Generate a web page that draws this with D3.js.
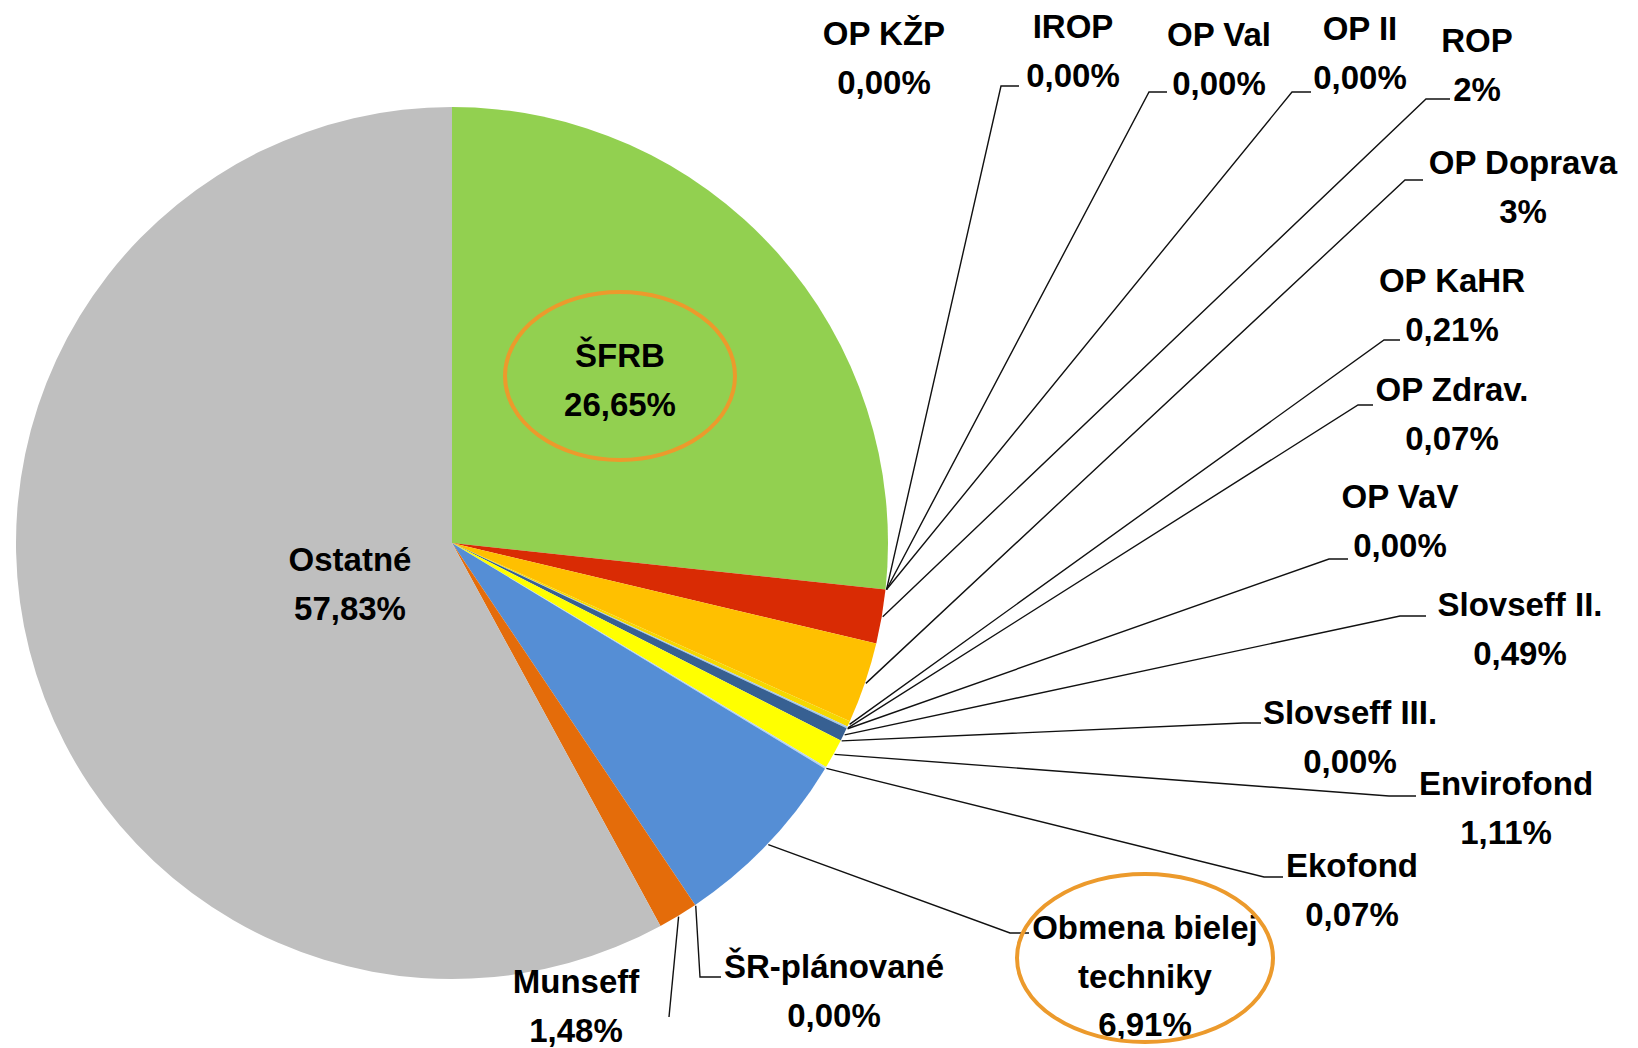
<!DOCTYPE html>
<html><head><meta charset="utf-8">
<script src="https://cdn.jsdelivr.net/npm/d3@7"></script>
<style>html,body{margin:0;padding:0;background:#fff;}svg{display:block;}</style>
</head><body>
<script>
const categories = ["ŠFRB","OP KŽP","IROP","OP Val","OP II","ROP","OP Doprava","OP KaHR","OP Zdrav.","OP VaV","Slovseff II.","Slovseff III.","Envirofond","Ekofond","Obmena bielej\ntechniky","ŠR-plánované","Munseff","Ostatné"];
const values = [26.65,0,0,0,0,2,3,0.21,0.07,0,0.49,0,1.11,0.07,6.91,0,1.48,57.83];
const valueLabels = ["26,65%","0,00%","0,00%","0,00%","0,00%","2%","3%","0,21%","0,07%","0,00%","0,49%","0,00%","1,11%","0,07%","6,91%","0,00%","1,48%","57,83%"];
const colors = ["#92D050","#4F81BD","#C0504D","#9BBB59","#8064A2","#D92B04","#FFC000","#F5D800","#A6C8E8","#4BACC6","#376092","#F79646","#FFFF00","#B7D3EF","#558ED5","#7F7F7F","#E46C0A","#BFBFBF"];

// layout of the data labels (text centre, leader elbow, hook length)
const labelLayout = [
  {tx:620,ty:355,leader:false},
  {tx:884,ty:33,leader:false},
  {tx:1073,ty:26,ax:1001,ay:86,hook:18},
  {tx:1219,ty:34,ax:1149,ay:92,hook:18},
  {tx:1360,ty:28,ax:1292,ay:92,hook:19},
  {tx:1477,ty:40,ax:1426,ay:99,hook:24},
  {tx:1523,ty:162,ax:1405,ay:180,hook:18},
  {tx:1452,ty:280,ax:1384,ay:340,hook:16},
  {tx:1452,ty:389,ax:1358,ay:405,hook:15},
  {tx:1400,ty:496,ax:1329,ay:559,hook:19},
  {tx:1520,ty:604,ax:1400,ay:616,hook:26},
  {tx:1350,ty:712,ax:1243,ay:723,hook:18},
  {tx:1506,ty:783,ax:1389,ay:796,hook:27},
  {tx:1352,ty:865,ax:1264,ay:877,hook:19},
  {tx:1145,ty:927,ax:1010,ay:933,hook:19},
  {tx:834,ty:966,ax:700,ay:977,hook:21},
  {tx:576,ty:981,ax:669,ay:1017,hook:0},
  {tx:350,ty:559,leader:false}
];

const W = 1638, H = 1048;
const cx = 452, cy = 543, R = 436;
const lineH = 48.5;

const svg = d3.select("body").append("svg").attr("width",W).attr("height",H);
const g = svg.append("g").attr("transform",`translate(${cx},${cy})`);

const pie = d3.pie().sort(null).value(d=>d)(values);
const arc = d3.arc().innerRadius(0).outerRadius(R);

g.selectAll("path.slice").data(pie).enter().append("path")
  .attr("class","slice")
  .attr("d",arc)
  .attr("fill",(d,i)=>colors[i]);

// leader lines
const leaders = svg.append("g").attr("fill","none").attr("stroke","#111").attr("stroke-width",1.4);
pie.forEach((d,i)=>{
  const L = labelLayout[i];
  if (L.leader===false) return;
  const a = (d.startAngle+d.endAngle)/2;
  const sx = cx + (R+1)*Math.sin(a), sy = cy - (R+1)*Math.cos(a);
  const path = d3.path();
  path.moveTo(sx,sy);
  path.lineTo(L.ax,L.ay);
  if (L.hook>0) path.lineTo(L.ax+L.hook,L.ay);
  leaders.append("path").attr("d",path.toString());
});

// labels
const labels = svg.append("g")
  .attr("font-family","'Liberation Sans', Arial, sans-serif")
  .attr("font-weight","bold").attr("font-size",33).attr("fill","#000")
  .attr("text-anchor","middle");
categories.forEach((c,i)=>{
  const L = labelLayout[i];
  const lines = c.split("\n").concat([valueLabels[i]]);
  const t = labels.append("text").attr("x",L.tx).attr("y",L.ty).attr("dominant-baseline","central");
  lines.forEach((s,k)=>{
    t.append("tspan").attr("x",L.tx).attr("y",L.ty+k*lineH).attr("dominant-baseline","central").text(s);
  });
});

// highlight ellipses
const ell = [{cat:"ŠFRB",rx:115,ry:84,dy:21},{cat:"Obmena bielej\ntechniky",rx:128,ry:84,dy:31}];
ell.forEach(e=>{
  const i = categories.indexOf(e.cat);
  const L = labelLayout[i];
  svg.append("ellipse").attr("cx",L.tx).attr("cy",L.ty+e.dy).attr("rx",e.rx).attr("ry",e.ry)
    .attr("fill","none").attr("stroke","#EC9A2C").attr("stroke-width",4);
});
</script>
</body></html>
